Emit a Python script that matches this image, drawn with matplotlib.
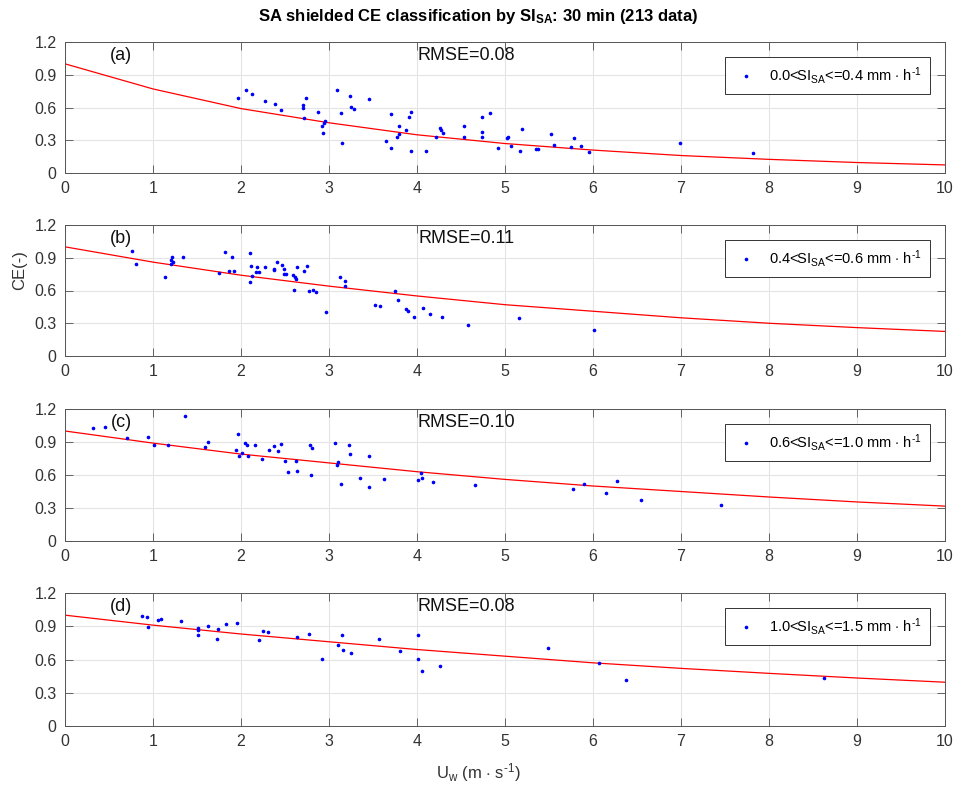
import matplotlib
matplotlib.use("Agg")
import matplotlib.pyplot as plt
import numpy as np

plt.rcParams['font.family'] = ['Liberation Sans', 'DejaVu Sans']
plt.rcParams['mathtext.fontset'] = 'custom'
plt.rcParams['mathtext.rm'] = 'Liberation Sans'
plt.rcParams['mathtext.it'] = 'Liberation Sans'
plt.rcParams['mathtext.bf'] = 'Liberation Sans:bold'

# Fitted curve values at integer wind speeds 0..10
curve_x = [0, 1, 2, 3, 4, 5, 6, 7, 8, 9, 10]
curve_a = [1.00, 0.77, 0.59, 0.46, 0.35, 0.27, 0.21, 0.16, 0.125, 0.096, 0.074]
curve_b = [1.00, 0.86, 0.74, 0.64, 0.55, 0.47, 0.41, 0.35, 0.30, 0.26, 0.225]
curve_c = [1.00, 0.89, 0.79, 0.71, 0.63, 0.56, 0.50, 0.45, 0.40, 0.355, 0.317]
curve_d = [1.00, 0.91, 0.83, 0.76, 0.69, 0.63, 0.57, 0.52, 0.475, 0.433, 0.395]

# Panel (a)
a_x = [1.97, 2.06, 2.13, 2.27, 2.39, 2.46, 2.70, 2.74, 2.71, 2.72, 2.87, 2.96, 2.94, 2.92, 2.93,
       3.09, 3.14, 3.15, 3.24, 3.25, 3.28, 3.45, 3.65, 3.70, 3.71, 3.77, 3.79, 3.80, 3.88, 3.91,
       3.93, 3.93, 4.10, 4.22, 4.27, 4.26, 4.29, 4.53, 4.53, 4.74, 4.74, 4.74, 4.83, 4.92, 5.02,
       5.03, 5.07, 5.17, 5.19, 5.35, 5.37, 5.52, 5.56, 5.75, 5.78, 5.86, 5.95, 6.99, 7.82]
a_y = [0.69, 0.756, 0.72, 0.657, 0.636, 0.576, 0.624, 0.687, 0.594, 0.504, 0.561, 0.477, 0.462, 0.429, 0.363,
       0.759, 0.552, 0.276, 0.705, 0.603, 0.588, 0.678, 0.297, 0.54, 0.228, 0.333, 0.36, 0.435, 0.396, 0.513,
       0.558, 0.204, 0.204, 0.33, 0.396, 0.411, 0.369, 0.435, 0.33, 0.516, 0.372, 0.33, 0.546, 0.228, 0.318,
       0.327, 0.246, 0.204, 0.399, 0.216, 0.216, 0.357, 0.258, 0.237, 0.318, 0.246, 0.189, 0.273, 0.186]

# Panel (b)
b_x = [0.76, 0.81, 1.14, 1.20, 1.22, 1.21, 1.23, 1.34, 1.75, 1.82, 1.90, 1.86, 1.92, 2.10, 2.11,
       2.12, 2.10, 2.18, 2.17, 2.21, 2.27, 2.37, 2.37, 2.41, 2.47, 2.49, 2.49, 2.51, 2.59, 2.61,
       2.62, 2.60, 2.64, 2.72, 2.75, 2.77, 2.82, 2.85, 2.97, 3.12, 3.18, 3.18, 3.52, 3.58, 3.75,
       3.78, 3.88, 3.90, 3.97, 4.07, 4.15, 4.28, 4.58, 5.16, 6.01]
b_y = [0.958, 0.84, 0.727, 0.875, 0.91, 0.846, 0.86, 0.905, 0.763, 0.953, 0.905, 0.78, 0.78, 0.941, 0.822,
       0.733, 0.674, 0.816, 0.774, 0.774, 0.816, 0.795, 0.786, 0.864, 0.834, 0.798, 0.751, 0.751, 0.742, 0.721,
       0.709, 0.608, 0.813, 0.777, 0.825, 0.599, 0.605, 0.582, 0.404, 0.721, 0.685, 0.641, 0.469, 0.457, 0.599,
       0.513, 0.433, 0.412, 0.356, 0.439, 0.389, 0.356, 0.288, 0.344, 0.237]

# Panel (c)
c_x = [0.32, 0.45, 0.71, 0.94, 1.01, 1.17, 1.36, 1.59, 1.62, 1.97, 1.94, 1.98, 2.01, 2.05, 2.07,
       2.08, 2.16, 2.24, 2.32, 2.37, 2.42, 2.45, 2.50, 2.53, 2.62, 2.64, 2.78, 2.81, 2.79, 3.07,
       3.10, 3.09, 3.14, 3.23, 3.24, 3.35, 3.45, 3.46, 3.63, 4.04, 4.01, 4.06, 4.18, 4.66, 5.77,
       5.90, 6.15, 6.27, 6.55, 7.46]
c_y = [1.03, 1.033, 0.937, 0.943, 0.871, 0.877, 1.135, 0.859, 0.901, 0.976, 0.829, 0.769, 0.802, 0.892, 0.874,
       0.769, 0.871, 0.743, 0.829, 0.865, 0.817, 0.883, 0.728, 0.626, 0.725, 0.632, 0.877, 0.85, 0.602, 0.889,
       0.719, 0.692, 0.521, 0.871, 0.79, 0.575, 0.769, 0.488, 0.566, 0.617, 0.551, 0.575, 0.539, 0.512, 0.47,
       0.518, 0.437, 0.542, 0.374, 0.329]

# Panel (d)
d_x = [0.87, 0.93, 0.94, 1.06, 1.09, 1.32, 1.51, 1.51, 1.51, 1.62, 1.74, 1.73, 1.83, 1.95, 2.20,
       2.25, 2.31, 2.64, 2.77, 2.92, 3.10, 3.15, 3.16, 3.25, 3.57, 3.81, 4.01, 4.01, 4.06, 4.26,
       5.49, 6.07, 6.37, 8.63]
d_y = [0.994, 0.979, 0.892, 0.955, 0.967, 0.946, 0.88, 0.862, 0.82, 0.898, 0.871, 0.781, 0.922, 0.925, 0.772,
       0.853, 0.85, 0.802, 0.832, 0.601, 0.727, 0.817, 0.685, 0.655, 0.784, 0.673, 0.817, 0.607, 0.499, 0.538,
       0.703, 0.565, 0.411, 0.435]

panel_labels = ['(a)', '(b)', '(c)', '(d)']
rmse_labels = ['RMSE=0.08', 'RMSE=0.11', 'RMSE=0.10', 'RMSE=0.08']
legend_labels = ['0.0<SI$_{\\rm SA}$<=0.4 mm $\\cdot$ h$^{\\rm \u20101}$',
                 '0.4<SI$_{\\rm SA}$<=0.6 mm $\\cdot$ h$^{\\rm \u20101}$',
                 '0.6<SI$_{\\rm SA}$<=1.0 mm $\\cdot$ h$^{\\rm \u20101}$',
                 '1.0<SI$_{\\rm SA}$<=1.5 mm $\\cdot$ h$^{\\rm \u20101}$']
xticks = [0, 1, 2, 3, 4, 5, 6, 7, 8, 9, 10]
yticks = [0, 0.3, 0.6, 0.9, 1.2]
ytick_labels = ['0', '0.3', '0.6', '0.9', '1.2']

xs_all = [a_x, b_x, c_x, d_x]
ys_all = [a_y, b_y, c_y, d_y]
curves = [curve_a, curve_b, curve_c, curve_d]

fig = plt.figure(figsize=(9.57, 7.86), dpi=100)
W, H = 957, 786
left_px, right_px = 65, 945
tops = [42, 225, 409, 593]
bottoms = [173, 356, 541, 726]

axes = []
for i in range(4):
    ax = fig.add_axes([left_px / W, 1 - bottoms[i] / H, (right_px - left_px) / W,
                       (bottoms[i] - tops[i]) / H])
    axes.append(ax)
    ax.plot(curve_x, curves[i], color='red', lw=0.9, zorder=2)
    ax.plot(xs_all[i], ys_all[i], linestyle='none', marker='.', color='blue',
            markersize=3.2, label=legend_labels[i], zorder=3)
    ax.set_xlim(0, 10)
    ax.set_ylim(0, 1.2)
    ax.set_xticks(xticks)
    ax.set_xticklabels([str(t) for t in xticks])
    ax.set_yticks(yticks)
    ax.set_yticklabels(ytick_labels)
    ax.grid(True, color='#e4e4e4', lw=0.8)
    ax.set_axisbelow(True)
    ax.tick_params(direction='in', top=True, right=True, labelsize=11.5,
                   colors='#4d4d4d', labelcolor='#333333', length=6, width=0.6, pad=6)
    for sp in ax.spines.values():
        sp.set_color('#555555')
        sp.set_linewidth(0.7)
    ax.text(0.064, 0.96, panel_labels[i], transform=ax.transAxes, fontsize=13,
            va='top', ha='center', color='#111111')
    ax.text(0.456, 0.96, rmse_labels[i], transform=ax.transAxes, fontsize=13,
            va='top', ha='center', color='#111111')
    leg = ax.legend(loc='upper right', bbox_to_anchor=(0.983, 0.885), fontsize=10.5,
                    frameon=True, fancybox=False, edgecolor='#333333', framealpha=1,
                    borderaxespad=0, handletextpad=0.7, borderpad=0.55, markerscale=1.0,
                    handlelength=1.8)
    leg.get_frame().set_linewidth(0.7)

fig.text(0.5, 1 - 16 / H, r'SA shielded CE classification by SI$_{\rm \mathbf{SA}}$: 30 min (213 data)',
         ha='center', va='center', fontsize=12, fontweight='bold')
fig.text(20 / W, 1 - 270 / H, 'CE(-)', rotation=90, ha='center', va='center', fontsize=12,
         color='#333333')
fig.text(0.5, 1 - 773 / H, 'U$_{\\rm w}$ (m $\\cdot$ s$^{\\rm \u20101}$)', ha='center', va='center',
         fontsize=12, color='#333333')

fig.savefig('out.png', dpi=100)
